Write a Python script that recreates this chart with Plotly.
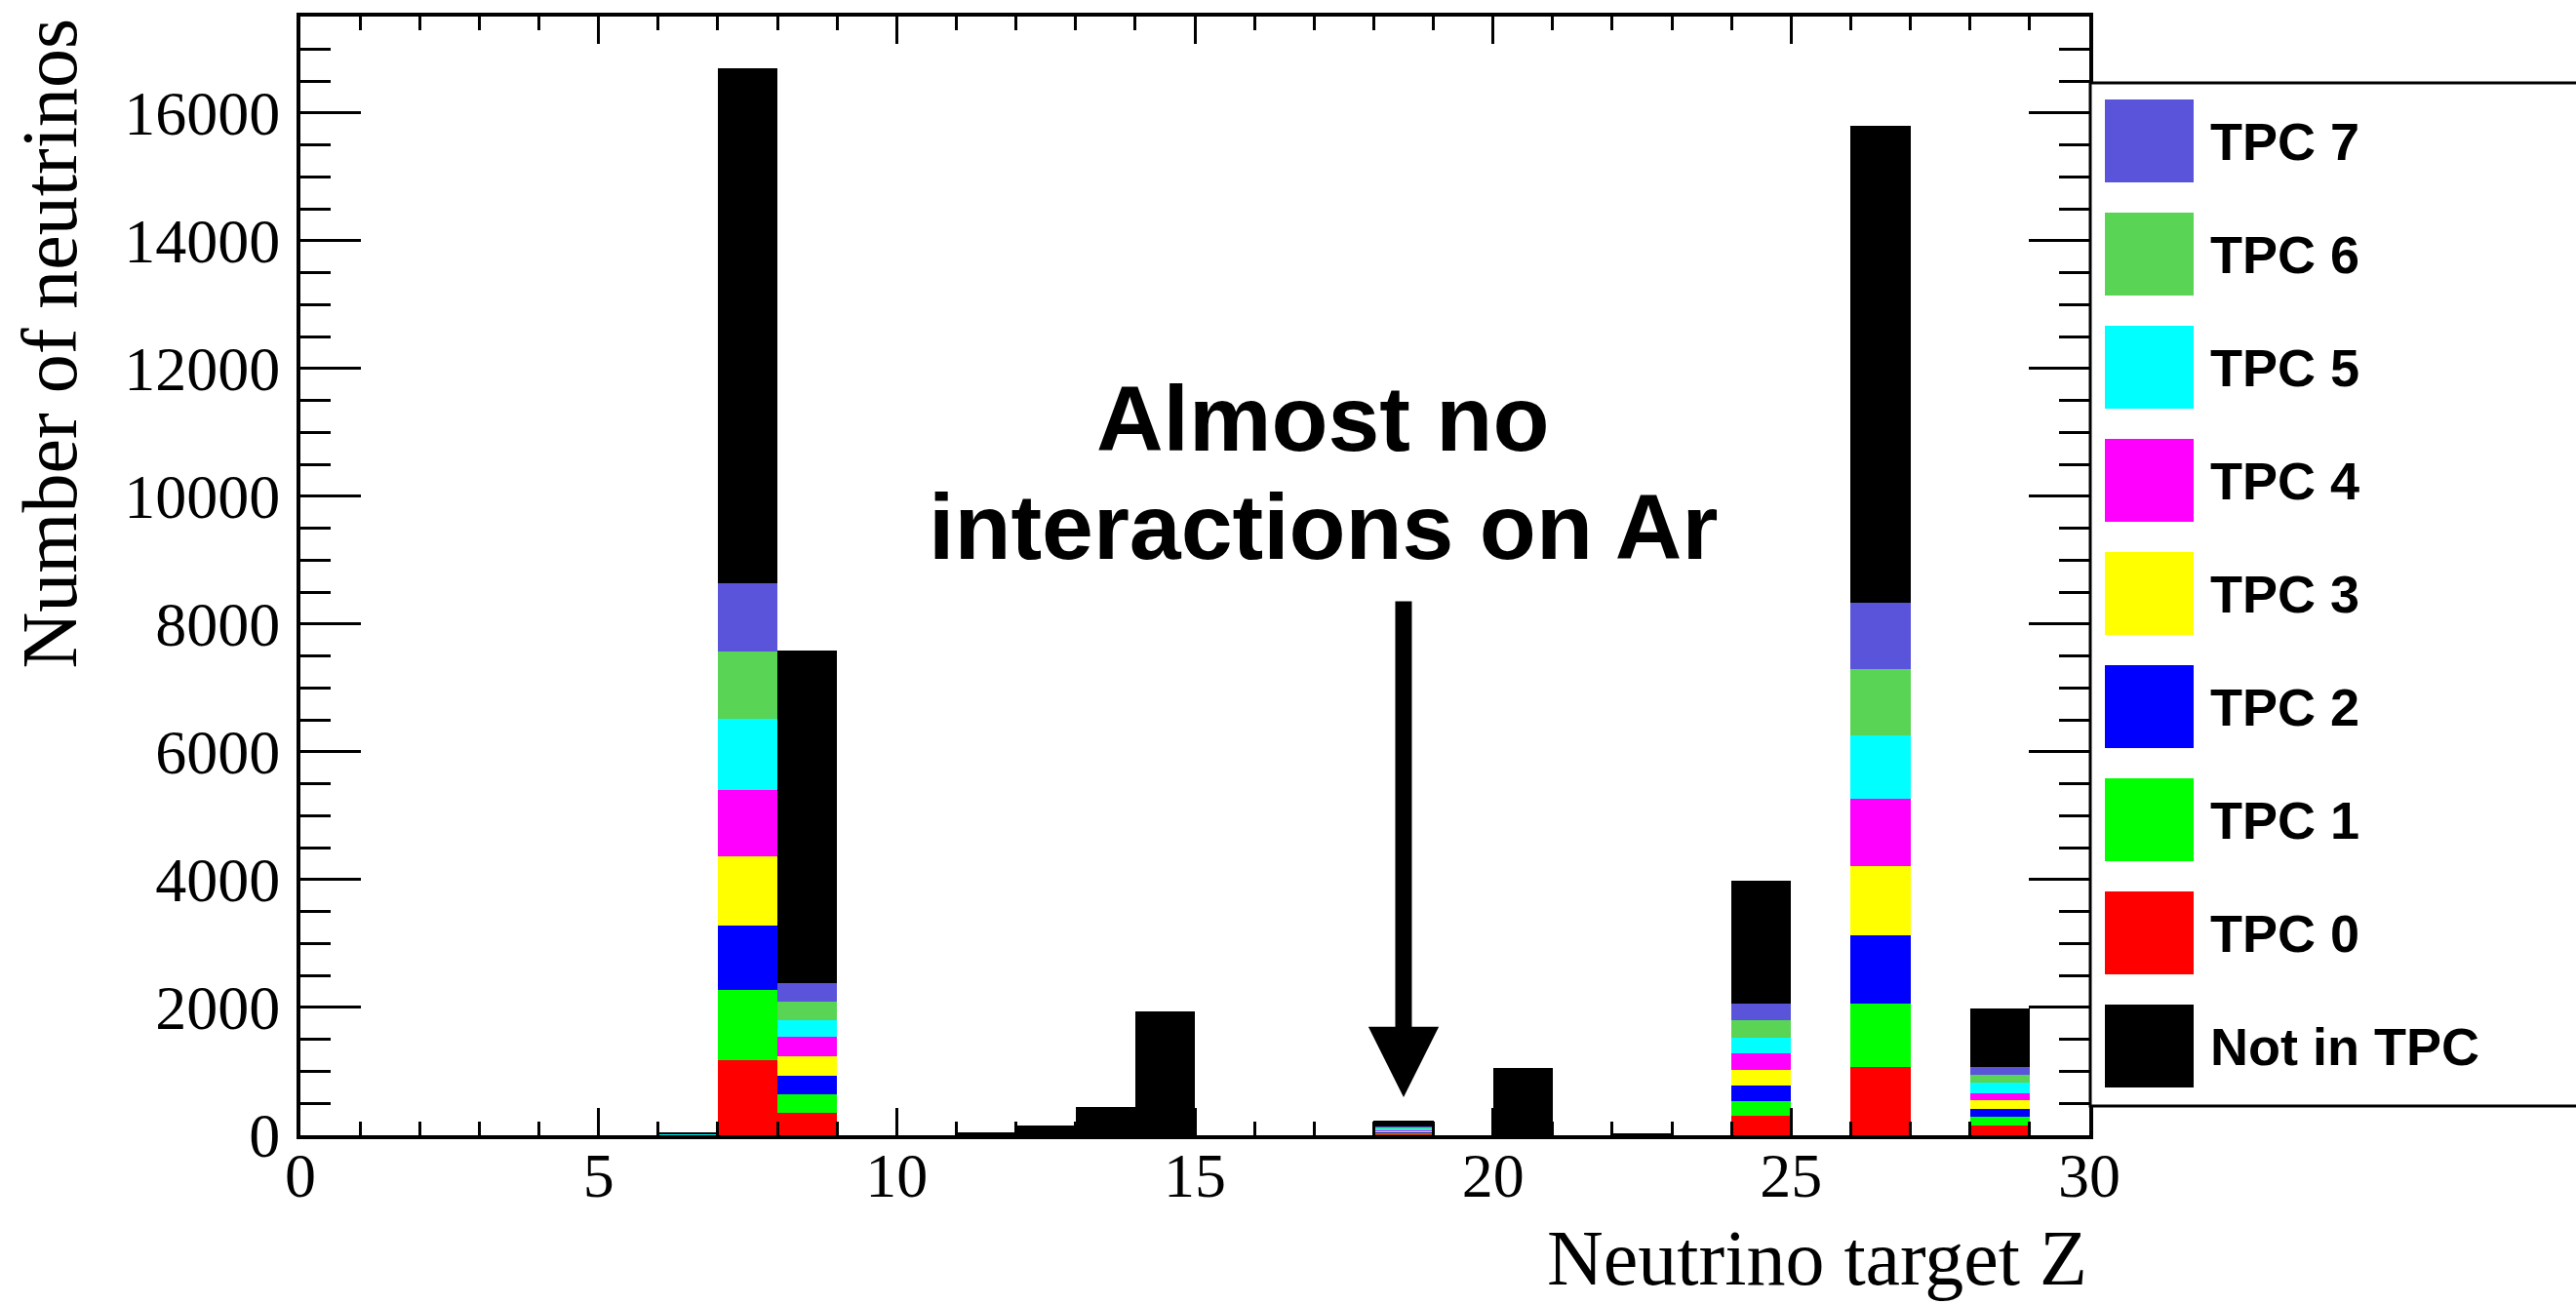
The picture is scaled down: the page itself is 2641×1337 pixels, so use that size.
import plotly.graph_objects as go

# ---------------- data ----------------
z_bins = [6, 7, 8, 11, 12, 13, 14, 18, 20, 22, 24, 26, 28]
tpc0 = [3, 1177, 350, 0, 0, 0, 0, 18, 0, 0, 298, 1071, 146]
tpc1 = [3, 1096, 291, 0, 0, 0, 0, 18, 0, 0, 239, 983, 146]
tpc2 = [3, 1003, 292, 0, 0, 0, 0, 18, 0, 0, 246, 1079, 123]
tpc3 = [3, 1096, 303, 0, 0, 0, 0, 18, 0, 0, 239, 1085, 128]
tpc4 = [3, 1037, 303, 0, 0, 0, 0, 17, 0, 0, 263, 1056, 117]
tpc5 = [3, 1108, 256, 0, 0, 0, 0, 18, 0, 0, 245, 992, 169]
tpc6 = [3, 1049, 292, 0, 0, 0, 0, 17, 0, 0, 275, 1027, 123]
tpc7 = [3, 1073, 291, 0, 0, 0, 0, 17, 0, 0, 257, 1039, 111]
not_in_tpc = [10, 8055, 5211, 51, 148, 443, 1935, 85, 1055, 36, 1915, 7465, 923]

series_names = ["TPC 0", "TPC 1", "TPC 2", "TPC 3", "TPC 4", "TPC 5", "TPC 6", "TPC 7", "Not in TPC"]
series_values = [tpc0, tpc1, tpc2, tpc3, tpc4, tpc5, tpc6, tpc7, not_in_tpc]
series_colors = ["#ff0000", "#00ff00", "#0000ff", "#ffff00", "#ff00ff", "#00ffff", "#59d454", "#5954d9", "#000000"]
legend_order = ["TPC 7", "TPC 6", "TPC 5", "TPC 4", "TPC 3", "TPC 2", "TPC 1", "TPC 0", "Not in TPC"]

x_title = "Neutrino target Z"
y_title = "Number of neutrinos"
note_lines = ["Almost no", "interactions on Ar"]
arrow_x, arrow_tail_y, arrow_tip_y = 18.5, 8382, 595

# ---------------- geometry (pixels) ----------------
W, H = 2641, 1337
L, R, T, B = 308, 2142, 17, 1164
pw, ph = R - L, B - T


def px(xp):
    return (xp - L) / pw


def py(yp):
    return (B - yp) / ph


fig = go.Figure()
centers = [z + 0.5 for z in z_bins]
for name, vals, col in zip(series_names, series_values, series_colors):
    fig.add_trace(go.Bar(x=centers, y=vals, width=1, name=name,
                         marker=dict(color=col, line=dict(width=0))))

serif = "Liberation Serif, Times New Roman, serif"
sans = "Liberation Sans, Arial, sans-serif"

axis_common = dict(showgrid=False, zeroline=False, showline=True, linewidth=4,
                   linecolor="black", mirror="allticks", ticks="inside",
                   tickcolor="black", tickwidth=3,
                   tickfont=dict(family=serif, size=64, color="black"))

fig.update_xaxes(range=[0, 30], tick0=0, dtick=5, ticklen=28,
                 minor=dict(dtick=1, ticklen=14, tickwidth=3, ticks="inside",
                            tickcolor="black", showgrid=False),
                 ticklabelstandoff=-18, **axis_common)
fig.update_yaxes(range=[0, 17510], tick0=0, dtick=2000, ticklen=62, tickformat="d",
                 minor=dict(dtick=500, ticklen=31, tickwidth=3, ticks="inside",
                            tickcolor="black", showgrid=False),
                 ticklabelstandoff=4, **axis_common)

shapes = []
annotations = []

# legend frame (extends past the right edge like the original)
shapes.append(dict(type="rect", xref="paper", yref="paper",
                   x0=px(2143), x1=px(2700), y0=py(1134), y1=py(85),
                   line=dict(color="black", width=3), fillcolor="white", layer="above"))

for i, name in enumerate(legend_order):
    idx = series_names.index(name)
    top = 102 + i * 116
    shapes.append(dict(type="rect", xref="paper", yref="paper",
                       x0=px(2158), x1=px(2249), y0=py(top + 85), y1=py(top),
                       line=dict(width=0), fillcolor=series_colors[idx], layer="above"))
    annotations.append(dict(xref="paper", yref="paper", x=px(2264), y=py(top + 43),
                            xanchor="left", yanchor="middle", showarrow=False,
                            text="<b>" + name + "</b>",
                            font=dict(family=sans, size=54, color="black")))

# axis titles
annotations.append(dict(xref="paper", yref="paper", x=1.0, y=py(1290),
                        xanchor="right", yanchor="middle", showarrow=False,
                        text=x_title, font=dict(family=serif, size=80, color="black")))
annotations.append(dict(xref="paper", yref="paper", x=px(50), y=1.0,
                        xanchor="center", yanchor="top", showarrow=False, textangle=-90,
                        text=y_title, font=dict(family=serif, size=80, color="black")))

# note text
for line, ypix in zip(note_lines, [429, 540]):
    annotations.append(dict(xref="paper", yref="paper", x=px(1356), y=py(ypix),
                            xanchor="center", yanchor="middle", showarrow=False,
                            text="<b>" + line + "</b>",
                            font=dict(family=sans, size=95, color="black")))

# arrow
annotations.append(dict(xref="x", yref="y", x=arrow_x, y=arrow_tip_y,
                        axref="x", ayref="y", ax=arrow_x, ay=arrow_tail_y,
                        text="", showarrow=True, arrowhead=2, arrowwidth=17,
                        arrowsize=0.85, arrowcolor="black", standoff=0))

fig.update_layout(width=W, height=H, margin=dict(l=L, r=W - R, t=T, b=H - B, pad=0),
                  plot_bgcolor="white", paper_bgcolor="white", barmode="stack",
                  bargap=0, showlegend=False, shapes=shapes, annotations=annotations)

fig.write_html("out.html", config={"displayModeBar": False},
               post_script="document.body.style.margin='0';document.body.style.overflow='hidden';")
